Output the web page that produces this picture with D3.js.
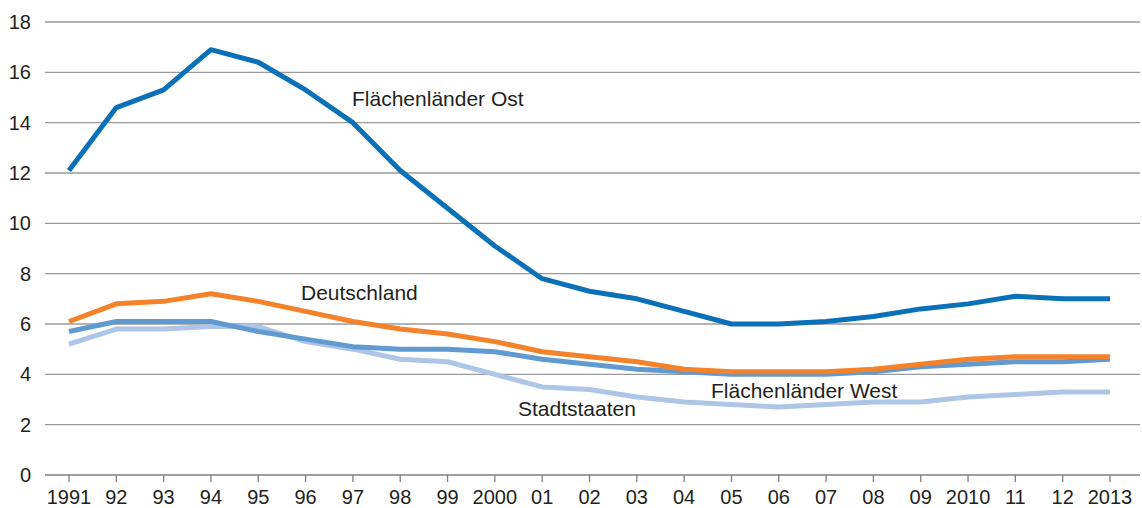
<!DOCTYPE html>
<html>
<head>
<meta charset="utf-8">
<script src="https://cdn.jsdelivr.net/npm/d3@7"></script>
<style>
  body { margin: 0; background: #fff; }
  svg text { font-family: "Liberation Sans", Arial, sans-serif; fill: #231f20; }
</style>
</head>
<body>
<svg id="chart" width="1142" height="508"></svg>
<script>
// --- data ---
const years = ["1991","92","93","94","95","96","97","98","99","2000","01","02","03","04","05","06","07","08","09","2010","11","12","2013"];
const ost          = [12.1,14.6,15.3,16.9,16.4,15.3,14.0,12.1,10.6,9.1,7.8,7.3,7.0,6.5,6.0,6.0,6.1,6.3,6.6,6.8,7.1,7.0,7.0];
const deutschland  = [6.1,6.8,6.9,7.2,6.9,6.5,6.1,5.8,5.6,5.3,4.9,4.7,4.5,4.2,4.1,4.1,4.1,4.2,4.4,4.6,4.7,4.7,4.7];
const west         = [5.7,6.1,6.1,6.1,5.7,5.4,5.1,5.0,5.0,4.9,4.6,4.4,4.2,4.1,4.0,4.0,4.0,4.1,4.3,4.4,4.5,4.5,4.6];
const stadtstaaten = [5.2,5.8,5.8,5.9,5.9,5.3,5.0,4.6,4.5,4.0,3.5,3.4,3.1,2.9,2.8,2.7,2.8,2.9,2.9,3.1,3.2,3.3,3.3];
const yTicks = [0,2,4,6,8,10,12,14,16,18];

const series = [
  { name: "Stadtstaaten",       values: stadtstaaten, color: "#adc5e7", lx: 518, ly: 416 },
  { name: "Flächenländer West", values: west,         color: "#6199d1", lx: 711, ly: 398 },
  { name: "Deutschland",        values: deutschland,  color: "#f3822a", lx: 301, ly: 300 },
  { name: "Flächenländer Ost",  values: ost,          color: "#0a70b8", lx: 352, ly: 106 }
];

const svg = d3.select("#chart");
const plotL = 45, plotR = 1140, plotT = 22, plotB = 475;

const x = d3.scalePoint().domain(years).range([69, 1110]);
const y = d3.scaleLinear().domain([0, 18]).range([plotB, plotT]);

// gridlines
svg.append("g")
  .selectAll("line")
  .data(yTicks.filter(d => d > 0))
  .join("line")
  .attr("x1", plotL).attr("x2", plotR)
  .attr("y1", d => y(d)).attr("y2", d => y(d))
  .attr("stroke", "#9a9a9a")
  .attr("stroke-width", 1.3);

// y labels
svg.append("g")
  .selectAll("text")
  .data(yTicks)
  .join("text")
  .attr("x", 31)
  .attr("y", d => y(d) + 7)
  .attr("text-anchor", "end")
  .style("font-size", "20px")
  .text(d => d);

// x axis
const xAxis = svg.append("g").attr("transform", `translate(0,${plotB})`);
xAxis.append("line")
  .attr("x1", plotL).attr("x2", plotR)
  .attr("stroke", "#7f7f7f").attr("stroke-width", 1.5);
xAxis.selectAll(".tick")
  .data(years)
  .join("line")
  .attr("class", "tick")
  .attr("x1", d => x(d)).attr("x2", d => x(d))
  .attr("y1", 0).attr("y2", 7)
  .attr("stroke", "#7f7f7f").attr("stroke-width", 1.3);
xAxis.selectAll("text")
  .data(years)
  .join("text")
  .attr("x", d => x(d))
  .attr("y", 29)
  .attr("text-anchor", "middle")
  .style("font-size", "20px")
  .text(d => d);

// lines
const line = d3.line()
  .x((d, i) => x(years[i]))
  .y(d => y(d));

svg.append("g")
  .selectAll("path")
  .data(series)
  .join("path")
  .attr("d", d => line(d.values))
  .attr("fill", "none")
  .attr("stroke", d => d.color)
  .attr("stroke-width", 5)
  .attr("stroke-linejoin", "round");

// series labels
svg.append("g")
  .selectAll("text")
  .data(series)
  .join("text")
  .attr("x", d => d.lx)
  .attr("y", d => d.ly)
  .style("font-size", "21px")
  .text(d => d.name);
</script>
</body>
</html>
